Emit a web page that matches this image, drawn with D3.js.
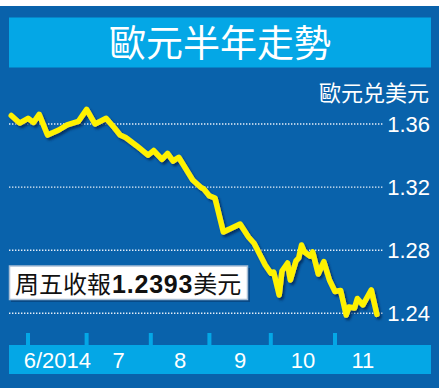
<!DOCTYPE html>
<html><head><meta charset="utf-8">
<script src="https://cdn.jsdelivr.net/npm/d3@7"></script>
<style>html,body{margin:0;padding:0;background:#fff;}svg{display:block;}</style>
</head><body>
<script>
// trading-day index (0 = first trading day of June 2014) and EUR/USD close
const dayIndex = [-6,-3,0,2,4,7,11,14,18,21,24,28,31,33,35,39,43,45,48,50,52,54,59,62,63,65,67,70,76,79,81,85,87,88,90,91,93,94,96,97,98,99,101,102,104,106,108,110,112,114,115,117,118,120,123,125];
const rate = [1.3654,1.3606,1.3636,1.3610,1.3661,1.3530,1.3562,1.3594,1.3616,1.3693,1.3600,1.3636,1.3575,1.3530,1.3514,1.3461,1.3403,1.3432,1.3376,1.3414,1.3365,1.3389,1.3245,1.3197,1.3188,1.3144,1.3131,1.2915,1.2966,1.2884,1.2844,1.2706,1.2655,1.2662,1.2516,1.2668,1.2719,1.2611,1.2732,1.2751,1.2833,1.2790,1.2763,1.2789,1.2649,1.2728,1.2611,1.2538,1.2545,1.2389,1.2440,1.2434,1.2494,1.2453,1.2548,1.2393];
const monthStart = [0,21,44,65,87,110,130];   // first trading day of Jun..Dec
const monthLabels = ["6/2014","7","8","9","10","11"];
const yTicks = [1.24,1.28,1.32,1.36];
const title = "歐元半年走勢";
const unitLabel = "歐元兑美元";
const noteParts = ["周五收報","1.2393","美元"];

const W = 439, H = 388;
const svg = d3.select("body").append("svg").attr("width", W).attr("height", H);
const defs = svg.append("defs");
const f = defs.append("filter").attr("id","sh").attr("x","-10%").attr("y","-10%").attr("width","130%").attr("height","130%");
f.append("feDropShadow").attr("dx",2).attr("dy",2.5).attr("stdDeviation",1.2).attr("flood-color","#002a5c").attr("flood-opacity",0.85);

// background
svg.append("rect").attr("x",0).attr("y",0).attr("width",W).attr("height",H).attr("fill","#fff");
svg.append("rect").attr("x",0).attr("y",6).attr("width",W).attr("height",H-6).attr("fill","#0962ab");

// title
svg.append("rect").attr("x",9).attr("y",17.5).attr("width",422).attr("height",50).attr("fill","#04a7e6");
svg.append("text").attr("x",220).attr("y",57).attr("text-anchor","middle")
  .attr("font-family","'Noto Sans CJK TC','Noto Sans CJK SC',sans-serif").attr("font-size",37)
  .attr("fill","#fff").text(title);

const x = d3.scaleLinear().domain([0,110]).range([28,335]);
const y = d3.scaleLinear().domain([1.24,1.36]).range([313.3,124]);

// grid + y labels
const g = svg.append("g");
g.selectAll("line.grid").data(yTicks).join("line")
  .attr("x1",9).attr("x2",383).attr("y1",d=>y(d)).attr("y2",d=>y(d))
  .attr("stroke","#e6eef8").attr("stroke-width",1.4).attr("stroke-dasharray","1.4,1.6");
g.selectAll("text.yl").data(yTicks).join("text")
  .attr("x",430).attr("y",d=>y(d)+8).attr("text-anchor","end")
  .attr("font-family","'Liberation Sans',Arial,sans-serif").attr("font-size",22)
  .attr("fill","#fff").text(d=>d3.format(".2f")(d));
svg.append("text").attr("x",429).attr("y",101).attr("text-anchor","end")
  .attr("font-family","'Noto Sans CJK TC','Noto Sans CJK SC',sans-serif").attr("font-size",22)
  .attr("fill","#fff").text(unitLabel);

// bottom axis band
svg.append("rect").attr("x",9).attr("y",345).attr("width",422).attr("height",29).attr("fill","#04a7e6");
svg.selectAll("rect.tick").data(monthStart.slice(0,6)).join("rect")
  .attr("x",d=>x(d)-2).attr("y",333).attr("width",4).attr("height",13).attr("fill","#04a7e6");
svg.selectAll("text.ml").data(monthLabels).join("text")
  .attr("x",(d,i)=>x((monthStart[i]+monthStart[i+1])/2)).attr("y",368).attr("text-anchor","middle")
  .attr("font-family","'Liberation Sans',Arial,sans-serif").attr("font-size",22)
  .attr("fill","#fff").text(d=>d);

// line
const data = dayIndex.map((d,i)=>({d, v: rate[i]}));
const line = d3.line().x(p=>x(p.d)).y(p=>y(p.v));
svg.append("path").datum(data).attr("d",line).attr("fill","none")
  .attr("stroke","#fff200").attr("stroke-width",5.5).attr("stroke-linejoin","round").attr("stroke-linecap","round")
  .attr("filter","url(#sh)");

// note box
svg.append("rect").attr("x",11).attr("y",268).attr("width",239).attr("height",34).attr("fill","#06386e").attr("opacity",0.6);
svg.append("rect").attr("x",9.5).attr("y",266).attr("width",238).attr("height",33.5).attr("fill","#fff")
  .attr("stroke","#a9bfd6").attr("stroke-width",1.5);
const nt = svg.append("text").attr("x",15).attr("y",292.5).attr("font-size",24).attr("fill","#111");
nt.append("tspan").attr("font-family","'Noto Sans CJK TC','Noto Sans CJK SC',sans-serif").text(noteParts[0]);
nt.append("tspan").attr("font-family","'Liberation Sans',Arial,sans-serif").attr("font-weight","bold")
  .attr("font-size",25).attr("letter-spacing",0.8).attr("dx",1).text(noteParts[1]);
nt.append("tspan").attr("font-family","'Noto Sans CJK TC','Noto Sans CJK SC',sans-serif").text(noteParts[2]);
</script>
</body></html>
